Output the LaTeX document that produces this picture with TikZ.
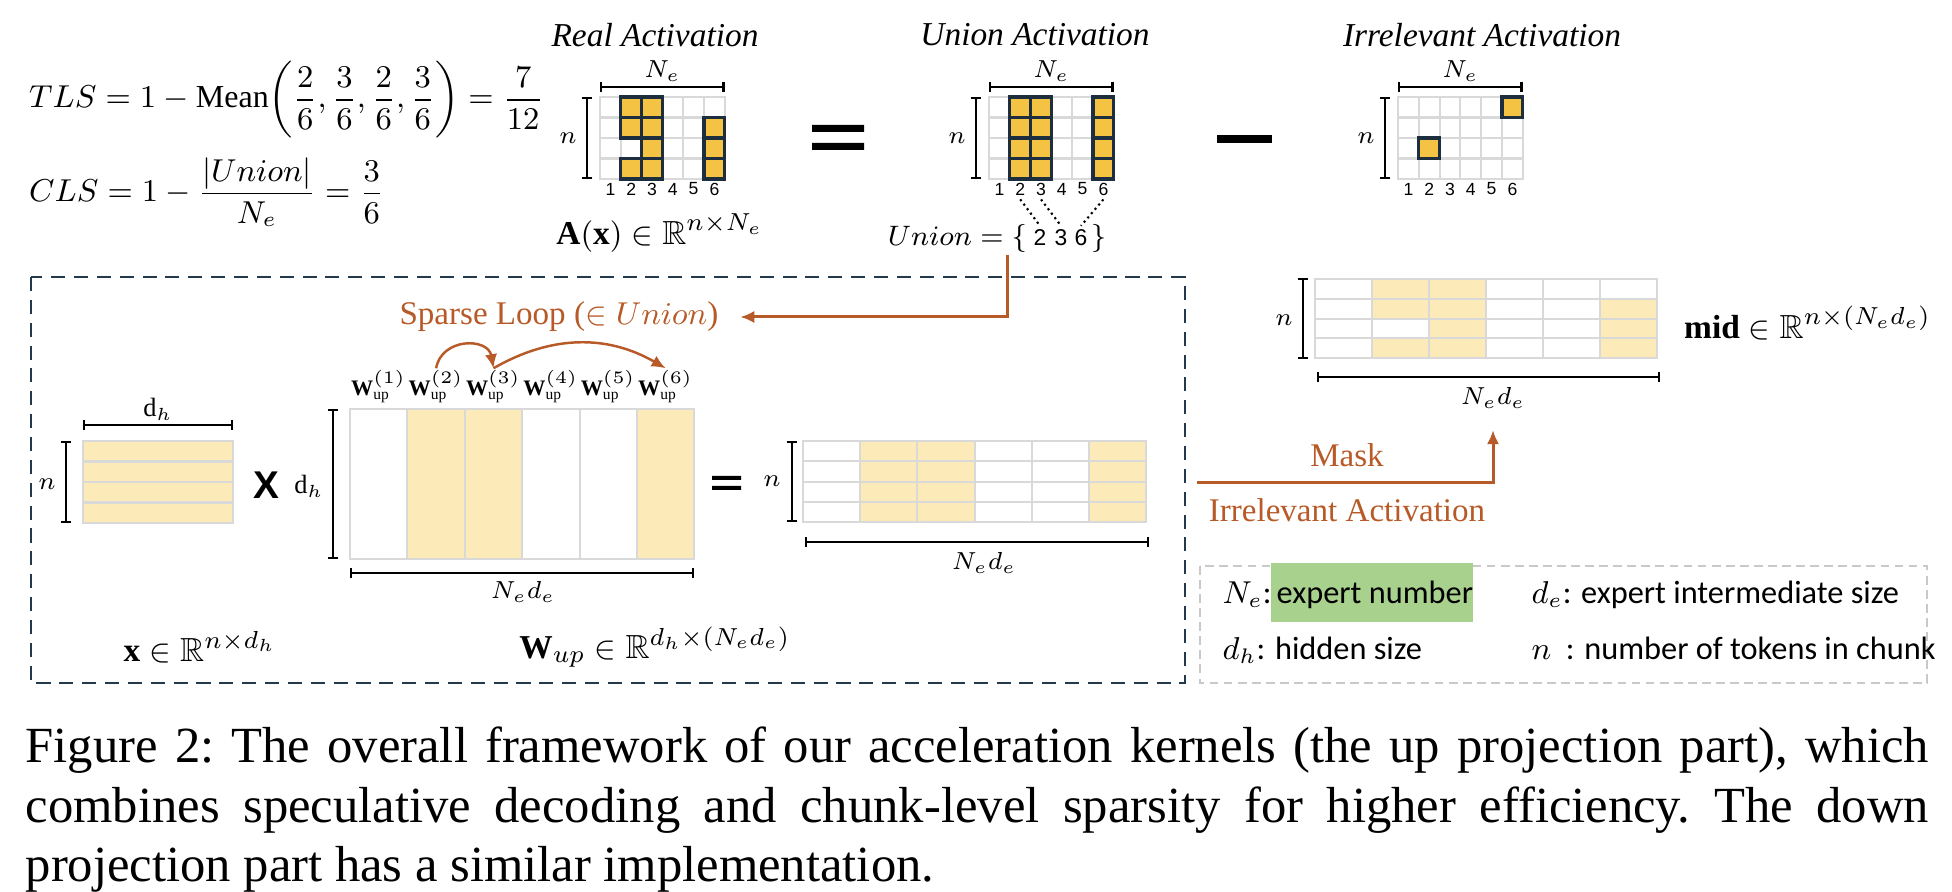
\documentclass[tikz,border=0pt]{standalone}
\usepackage{fontspec}
\usepackage{amsmath,amssymb}
\setmainfont{Liberation Serif}
\newfontfamily\legfont{Carlito}
\newfontfamily\numfont{Liberation Sans}
\usetikzlibrary{arrows.meta}
\definecolor{gold}{HTML}{F4C344}
\definecolor{cellnavy}{HTML}{1D2F3E}
\definecolor{gridgray}{HTML}{D9D9D9}
\definecolor{paleyellow}{HTML}{FCEBB8}
\definecolor{loopcolor}{HTML}{B75A27}
\definecolor{boxnavy}{HTML}{24394C}
\definecolor{legendgreen}{HTML}{A9D18E}
\definecolor{legendgray}{HTML}{C9C9C9}

\begin{document}
\begin{tikzpicture}[x=0.01cm, y=-0.01cm,
  cell/.style = {draw=gridgray, line width=0.6pt},
  hot/.style = {draw=cellnavy, fill=gold, line width=0.9pt},
  pale/.style = {draw=gridgray, fill=paleyellow, line width=0.6pt},
  dim/.style = {line width=0.7pt, {Bar[width=3pt]}-{Bar[width=3pt]}},
  lbl/.style = {font=\fontsize{7.5}{8}\selectfont, inner sep=1pt},
  digit/.style = {font=\numfont\fontsize{5}{6}\selectfont, inner sep=1pt},
  heading/.style = {font=\fontsize{9.5}{11}\selectfont\itshape},
  formula/.style = {font=\fontsize{9.5}{11}\selectfont, inner sep=1pt},
  wlbl/.style = {font=\fontsize{6.3}{7}\selectfont, inner sep=0.5pt},
  looptext/.style = {font=\fontsize{9.4}{11}\selectfont, text=loopcolor, inner sep=1pt},
  loopline/.style = {draw=loopcolor, line width=0.85pt, -{Latex[length=4pt,width=3.5pt]}},
  boxline/.style = {draw=boxnavy, line width=0.8pt, dash pattern=on 4pt off 2.5pt},
  legbox/.style = {draw=legendgray, line width=0.6pt, dash pattern=on 2.5pt off 1.5pt},
  legend/.style = {font=\legfont\fontsize{9.2}{10}\selectfont, inner sep=0pt, anchor=base west}]
\useasboundingbox (0,0) rectangle (1952,892);

\node[formula, font=\fontsize{9.1}{11}\selectfont, anchor=west] (tls) at (25,100) {$TLS = 1 - \mathrm{Mean}\!\left(\dfrac{2}{6},\dfrac{3}{6},\dfrac{2}{6},\dfrac{3}{6}\right) = \dfrac{7}{12}$};
\node[formula, font=\fontsize{9.1}{11}\selectfont, anchor=west] (cls) at (25,192) {$CLS = 1 - \dfrac{\lvert Union\rvert}{N_e} = \dfrac{3}{6}$};

\foreach \gx/\g in {600/r, 989/u, 1398/i} {
  \foreach \c in {0,...,5}
    \foreach \r in {0,...,3}
      \draw[cell] (\gx+\c*20.8, 97+\r*20.5) rectangle ++(20.8,20.5);
  \foreach \c in {1,...,6}
    \node[digit] (\g\c) at (\gx+\c*20.8-10.4, 189) {\c};
  \draw[dim] (\gx,87) -- (\gx+124.8,87);
  \draw[dim] (\gx-13,97) -- (\gx-13,179);
  \node[lbl] (\g Ne) at (\gx+62.4,71) {$N_e$};
  \node[lbl] (\g n) at (\gx-32,138) {$n$};
}
\foreach \c/\r in {1/0,1/1,1/3,2/0,2/1,2/2,2/3,5/1,5/2,5/3}
  \draw[hot] (600+\c*20.8, 97+\r*20.5) rectangle ++(20.8,20.5);
\foreach \c in {1,2,5}
  \foreach \r in {0,...,3}
    \draw[hot] (989+\c*20.8, 97+\r*20.5) rectangle ++(20.8,20.5);
\foreach \c/\r in {1/2,5/0}
  \draw[hot] (1398+\c*20.8, 97+\r*20.5) rectangle ++(20.8,20.5);

\node[heading] (rhead) at (655,35) {Real Activation};
\node[heading] (uhead) at (1035,35) {Union Activation};
\node[heading] (ihead) at (1482,35) {Irrelevant Activation};
\fill (812,125) rectangle (864,132) (812,143) rectangle (864,150);
\fill (1217,135) rectangle (1272,143);

\node[formula] (ax) at (660,233) {$\mathbf{A}(\mathbf{x}) \in \mathbb{R}^{n\times N_e}$};
\node[formula, font=\fontsize{8.3}{10}\selectfont, anchor=base east] (uset) at (1031,246) {$Union=\{$};
\foreach \d/\x in {2/1040,3/1061,6/1081}
  \node[digit, font=\numfont\fontsize{6.5}{7}\selectfont, anchor=base] (s\d) at (\x,246) {\d};
\node[formula, font=\fontsize{8.3}{10}\selectfont, anchor=base west] (uclose) at (1087,246) {$\}$};
\foreach \d in {2,3,6}
  \draw[densely dotted, line width=0.6pt] (u\d.south) -- (s\d.north);

\draw[boxline] (31,277) rectangle (1185,683);
\node[looptext] (sparse) at (559,317) {Sparse Loop ($\in Union$)};
\coordinate (loopstart) at (1007,255);
\draw[loopline, shorten >=5pt] (loopstart) |- (sparse.east);

\foreach \r in {0,...,3}
  \draw[pale] (83,441+\r*20.5) rectangle ++(150,20.5);
\draw[dim] (83,425) -- (233,425);
\node[lbl] (xdh) at (158,409) {$\mathrm{d}_h$};
\draw[dim] (66,441) -- (66,523);
\node[lbl] (xn) at (47,484) {$n$};
\node[font=\numfont\bfseries\fontsize{11}{12}\selectfont] (times) at (266,485) {X};
\node[formula] (xlab) at (200,647) {$\mathbf{x} \in \mathbb{R}^{n\times d_h}$};

\foreach \c in {0,...,5}
  \draw[cell] (350+\c*57.4,409) rectangle ++(57.4,150);
\foreach \c in {1,2,5}
  \draw[pale] (350+\c*57.4,409) rectangle ++(57.4,150);
\foreach \i in {1,...,6}
  \node[wlbl] (w\i) at (321.3+\i*57.4,387) {$\mathbf{W}_{\mathrm{up}}^{(\i)}$};
\draw[loopline, line width=0.7pt] (w2.north) to[out=80,in=100,looseness=1.4] (w3.north);
\draw[loopline, line width=0.7pt] (w3.north) to[out=30,in=150] (w6.north);
\draw[dim] (333,409) -- (333,559);
\node[lbl] (wdh) at (309,486) {$\mathrm{d}_h$};
\draw[dim] (350,573) -- (694,573);
\node[lbl] (wNd) at (523,592) {$N_e d_e$};
\node[formula] (wlab) at (655,647) {$\mathbf{W}_{up} \in \mathbb{R}^{d_h\times(N_e d_e)}$};

\fill (712,476) rectangle (741,480) (712,486) rectangle (741,490);
\foreach \c in {0,...,5}
  \foreach \r in {0,...,3}
    \draw[cell] (803+\c*57.2, 441+\r*20.3) rectangle ++(57.2,20.3);
\foreach \c in {1,2,5}
  \foreach \r in {0,...,3}
    \draw[pale] (803+\c*57.2, 441+\r*20.3) rectangle ++(57.2,20.3);
\draw[dim] (792,441) -- (792,522);
\node[lbl] (on) at (772,481) {$n$};
\draw[dim] (805,542) -- (1149,542);
\node[lbl] (oNd) at (984,563) {$N_e d_e$};

\foreach \c in {0,...,5}
  \foreach \r in {0,...,3}
    \draw[cell] (1315+\c*57, 279+\r*19.8) rectangle ++(57,19.8);
\foreach \c/\r in {1/0,1/1,1/3,2/0,2/1,2/2,2/3,5/1,5/2,5/3}
  \draw[pale] (1315+\c*57, 279+\r*19.8) rectangle ++(57,19.8);
\draw[dim] (1303,278) -- (1303,359);
\node[lbl] (mn) at (1284,320) {$n$};
\draw[dim] (1317,377) -- (1660,377);
\node[lbl] (mNd) at (1493,398) {$N_e d_e$};
\node[formula, anchor=west] (midlab) at (1680,323) {$\mathbf{mid}\in\mathbb{R}^{n\times(N_e d_e)}$};

\coordinate (maskstart) at (1197,483);
\draw[loopline, shorten >=5pt] (maskstart) -| (mNd.south);
\node[looptext] (mask) at (1347,455) {Mask};
\node[looptext] (irrlab) at (1347,510) {Irrelevant Activation};

\draw[legbox] (1200,566) rectangle (1927,683);
\fill[legendgreen] (1271,563) rectangle (1473,622);
\node[legend] (leg1) at (1222,604) {$N_e$:};
\node[legend] (leg1t) at (1276,604) {expert number};
\node[legend] (leg2) at (1531,604) {$d_e$: expert intermediate size};
\node[legend] (leg3) at (1222,660) {$d_h$: hidden size};
\node[legend] (leg4) at (1531,660) {$n$\ \ : number of tokens in chunk};

\node[anchor=base west, inner sep=0pt, text width=19.02cm, align=justify, font=\fontsize{14.4}{16.8}\selectfont] (caption) at (25,763)
  {\frenchspacing Figure 2: The overall framework of our acceleration kernels (the up projection part), which\linebreak
   combines speculative decoding and chunk-level sparsity for higher efficiency. The down\linebreak
   projection part has a similar implementation.};
\end{tikzpicture}
\end{document}
